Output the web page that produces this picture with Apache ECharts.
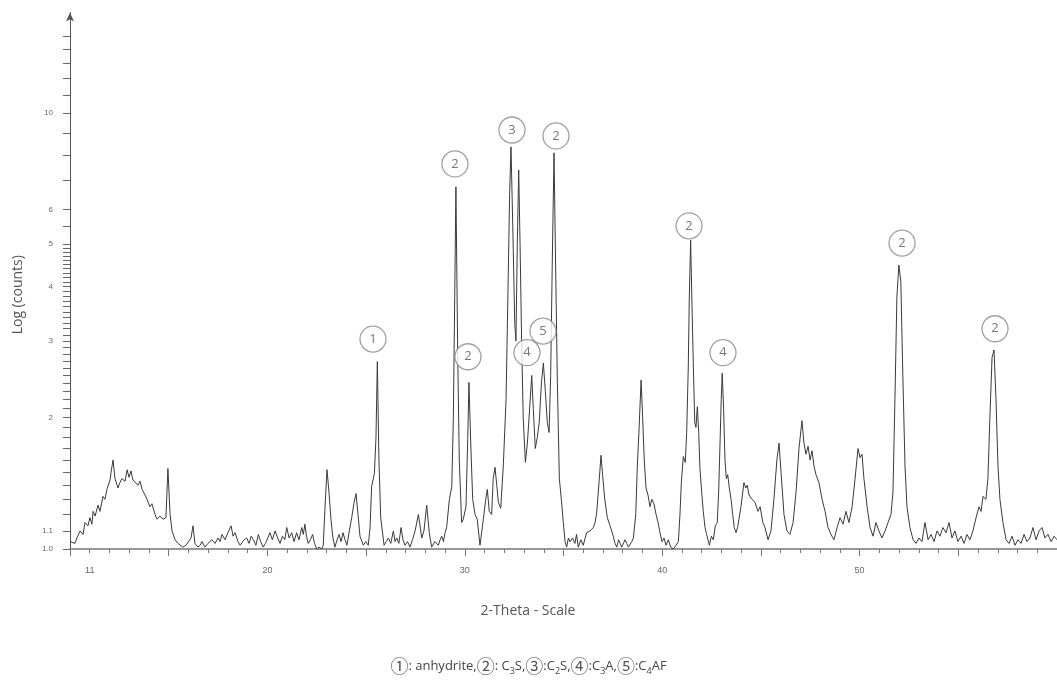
<!DOCTYPE html>
<html><head><meta charset="utf-8">
<script src="https://cdn.jsdelivr.net/npm/echarts@6/dist/echarts.min.js"></script>
<style>html,body{margin:0;padding:0;background:#fff}#c{width:1057px;height:682px}</style>
</head><body><div id="c"></div>
<script>
// 2-theta positions (degrees)
const twoTheta = [
10.00,10.10,10.25,10.35,10.51,10.66,10.76,10.91,11.01,11.11,
11.17,11.27,11.42,11.52,11.67,11.77,11.87,12.03,12.08,12.18,
12.28,12.43,12.53,12.63,12.79,12.89,12.99,13.09,13.19,13.29,
13.44,13.55,13.65,13.80,13.90,14.05,14.15,14.31,14.41,14.56,
14.71,14.86,14.96,15.07,15.17,15.32,15.47,15.57,15.72,15.88,
15.98,16.13,16.23,16.33,16.48,16.59,16.69,16.84,16.99,17.09,
17.19,17.35,17.50,17.60,17.70,17.85,18.00,18.16,18.26,18.36,
18.51,18.62,18.70,18.82,18.95,19.07,19.18,19.29,19.42,19.54,
19.66,19.79,19.90,20.02,20.13,20.25,20.39,20.52,20.64,20.76,
20.88,20.98,21.10,21.23,21.35,21.48,21.60,21.74,21.82,21.90,
21.98,22.07,22.18,22.29,22.39,22.49,22.62,22.75,22.83,22.92,
23.02,23.12,23.22,23.32,23.42,23.53,23.63,23.73,23.83,23.93,
24.03,24.15,24.27,24.38,24.49,24.59,24.69,24.86,24.98,25.11,
25.20,25.28,25.42,25.50,25.57,25.65,25.74,25.91,26.02,26.13,
26.25,26.38,26.47,26.55,26.66,26.77,26.87,26.97,27.10,27.22,
27.35,27.48,27.65,27.82,27.93,28.07,28.20,28.32,28.49,28.66,
28.75,28.83,28.92,29.00,29.08,29.22,29.34,29.42,29.49,29.55,
29.60,29.64,29.72,29.84,29.92,30.06,30.15,30.21,30.30,30.40,
30.52,30.63,30.77,30.94,31.06,31.14,31.24,31.36,31.44,31.53,
31.62,31.70,31.82,31.95,32.09,32.20,32.27,32.34,32.43,32.53,
32.59,32.66,32.73,32.80,32.88,32.96,33.07,33.17,33.27,33.39,
33.47,33.57,33.67,33.77,33.88,33.98,34.08,34.18,34.27,34.35,
34.43,34.52,34.60,34.69,34.79,34.89,34.99,35.08,35.16,35.25,
35.33,35.46,35.58,35.66,35.75,35.88,36.00,36.17,36.34,36.51,
36.60,36.68,36.81,36.90,36.98,37.09,37.22,37.36,37.52,37.61,
37.70,37.79,37.86,37.95,38.03,38.12,38.20,38.29,38.37,38.46,
38.54,38.66,38.74,38.82,38.93,39.01,39.09,39.18,39.28,39.38,
39.48,39.58,39.69,39.79,39.89,39.99,40.09,40.19,40.31,40.43,
40.56,40.70,40.82,40.90,40.97,41.07,41.17,41.24,41.32,41.37,
41.44,41.51,41.58,41.65,41.71,41.78,41.85,41.91,42.00,42.08,
42.17,42.25,42.39,42.49,42.59,42.69,42.79,42.86,42.93,42.99,
43.04,43.11,43.18,43.25,43.32,43.40,43.49,43.57,43.65,43.74,
43.82,43.90,43.99,44.08,44.14,44.23,44.31,44.40,44.55,44.70,
44.85,44.96,45.10,45.21,45.36,45.51,45.66,45.81,45.92,46.02,
46.17,46.32,46.47,46.63,46.78,46.93,47.08,47.18,47.28,47.39,
47.49,47.59,47.69,47.79,47.94,48.10,48.25,48.40,48.55,48.70,
48.86,49.01,49.16,49.31,49.46,49.62,49.77,49.92,50.02,50.12,
50.22,50.38,50.53,50.68,50.83,50.98,51.13,51.29,51.44,51.59,
51.69,51.79,51.89,51.99,52.09,52.19,52.30,52.40,52.55,52.71,
52.86,53.01,53.16,53.31,53.47,53.62,53.77,53.92,54.07,54.22,
54.38,54.53,54.68,54.83,54.98,55.14,55.29,55.44,55.59,55.74,
55.90,56.05,56.15,56.25,56.40,56.50,56.60,56.71,56.81,56.91,
57.01,57.11,57.26,57.42,57.57,57.72,57.87,58.02,58.18,58.33,
58.48,58.63,58.78,58.94,59.09,59.24,59.39,59.54,59.70,59.85,
60.00
];
// counts (log scale axis)
const counts = [
1.04,1.05,1.03,1.06,1.10,1.08,1.15,1.13,1.18,1.14,
1.22,1.19,1.26,1.22,1.32,1.30,1.37,1.44,1.50,1.60,
1.45,1.38,1.42,1.45,1.43,1.52,1.46,1.51,1.44,1.43,
1.40,1.43,1.37,1.33,1.30,1.25,1.27,1.20,1.17,1.19,
1.17,1.18,1.53,1.20,1.10,1.05,1.03,1.04,1.01,1.02,
1.01,1.06,1.13,1.03,1.01,1.02,1.04,1.01,1.03,1.02,
1.05,1.03,1.06,1.04,1.08,1.05,1.09,1.13,1.07,1.09,
1.04,1.02,1.01,1.05,1.06,1.03,1.07,1.05,1.02,1.08,
1.04,1.01,1.03,1.06,1.09,1.05,1.10,1.06,1.03,1.07,
1.05,1.12,1.06,1.09,1.04,1.09,1.05,1.12,1.08,1.14,
1.07,1.03,1.05,1.08,1.03,1.00,1.01,1.00,1.02,1.25,
1.52,1.35,1.17,1.06,1.01,1.05,1.08,1.04,1.09,1.05,
1.02,1.10,1.18,1.27,1.34,1.20,1.07,1.02,1.04,1.02,
1.12,1.39,1.49,1.80,2.69,1.60,1.18,1.02,1.04,1.06,
1.03,1.10,1.04,1.06,1.03,1.12,1.05,1.02,1.04,1.01,
1.05,1.10,1.20,1.06,1.10,1.26,1.09,1.01,1.04,1.02,
1.05,1.07,1.04,1.09,1.12,1.30,1.39,2.00,3.80,6.77,
4.20,2.80,1.60,1.15,1.17,1.25,1.80,2.41,1.75,1.30,
1.20,1.17,1.02,1.17,1.30,1.37,1.22,1.20,1.45,1.54,
1.40,1.28,1.24,1.55,2.20,4.20,6.50,8.36,5.50,3.30,
3.00,5.00,7.40,5.00,2.97,2.00,1.58,1.75,2.05,2.50,
2.10,1.70,1.80,1.95,2.40,2.67,2.30,1.95,1.85,2.50,
4.50,8.10,4.50,2.40,1.45,1.30,1.15,1.04,1.01,1.06,
1.04,1.06,1.03,1.08,1.01,1.05,1.02,1.09,1.10,1.12,
1.15,1.21,1.44,1.64,1.48,1.30,1.18,1.13,1.07,1.03,
1.01,1.05,1.04,1.01,1.01,1.05,1.03,1.01,1.02,1.04,
1.06,1.20,1.55,1.85,2.44,2.00,1.60,1.38,1.33,1.25,
1.30,1.27,1.20,1.15,1.09,1.04,1.06,1.02,1.05,1.01,
1.00,1.02,1.04,1.20,1.42,1.63,1.58,1.85,2.60,3.72,
5.11,3.60,2.61,1.95,1.90,2.12,1.85,1.54,1.35,1.22,
1.12,1.08,1.02,1.07,1.05,1.13,1.15,1.35,1.75,2.20,
2.53,2.10,1.60,1.45,1.48,1.38,1.30,1.20,1.12,1.09,
1.12,1.18,1.25,1.35,1.42,1.38,1.40,1.33,1.30,1.28,
1.22,1.25,1.15,1.12,1.05,1.10,1.30,1.60,1.75,1.50,
1.20,1.10,1.08,1.15,1.35,1.70,1.97,1.75,1.65,1.72,
1.60,1.68,1.55,1.48,1.42,1.30,1.22,1.12,1.08,1.05,
1.12,1.18,1.14,1.22,1.15,1.25,1.45,1.70,1.62,1.65,
1.45,1.25,1.12,1.07,1.15,1.10,1.06,1.10,1.15,1.20,
1.35,2.20,3.80,4.48,4.10,2.50,1.55,1.25,1.12,1.05,
1.03,1.06,1.04,1.15,1.05,1.08,1.04,1.10,1.07,1.12,
1.09,1.15,1.06,1.10,1.04,1.07,1.03,1.08,1.05,1.10,
1.18,1.25,1.22,1.32,1.30,1.45,2.00,2.75,2.86,2.20,
1.55,1.30,1.15,1.05,1.03,1.07,1.02,1.05,1.03,1.08,
1.04,1.06,1.12,1.05,1.10,1.12,1.06,1.08,1.04,1.07,
1.05
];
// phase annotation markers
const markerX = [25.35, 29.50, 30.16, 32.39, 34.62, 33.15, 33.96, 41.36, 43.08, 52.15, 56.86];
const markerY = [3.03, 7.64, 2.76, 9.14, 8.86, 2.82, 3.16, 5.51, 2.82, 5.03, 3.20];
const markerLabel = ['1','2','2','3','2','4','5','2','4','2','2'];
// axis labels / ticks
const xLabelValues = [11, 20, 30, 40, 50, 60];
const yLabelValues = [1.0, 1.1, 2, 3, 4, 5, 6, 10];
const yLabelTexts = ['1.0', '1.1', '2', '3', '4', '5', '6', '10'];
const yTickValues = [
1.0,1.1,1.2,1.3,1.4,1.5,1.6,1.7,1.8,1.9,
2.0,2.1,2.2,2.3,2.4,2.5,2.6,2.7,2.8,2.9,
3.0,3.1,3.2,3.3,3.4,3.5,3.6,3.7,3.8,3.9,
4.0,4.1,4.2,4.3,4.4,4.5,4.6,4.7,4.8,4.9,
5.0,5.5,6,7,8,9,10,11,12,13,14,15
];
const xAxisTitle = '2-Theta - Scale';
const yAxisTitle = 'Log (counts)';

const chart = echarts.init(document.getElementById('c'));
chart.setOption({
  animation: false,
  backgroundColor: '#fff',
  title: {
    left: 'center',
    top: 651,
    text: '{c|①}: anhydrite,{c|②}: C{s|3}S,{c|③}:C{s|2}S,{c|④}:C{s|3}A,{c|⑤}:C{s|4}AF',
    textStyle: {
      fontSize: 13, color: '#444', fontWeight: 'normal', lineHeight: 20,
      fontFamily: "'Open Sans', 'Noto Sans', sans-serif",
      rich: {
        c: { fontSize: 18, lineHeight: 20, color: '#555', fontFamily: "'Noto Sans CJK SC'" },
        s: { fontSize: 9, lineHeight: 12, verticalAlign: 'bottom', color: '#444', fontFamily: "'Open Sans', sans-serif" }
      }
    }
  },
  grid: { left: 70, right: 0, top: 12.5, bottom: 133, outerBoundsMode: 'none', containLabel: false },
  xAxis: {
    type: 'value', min: 10, max: 60, interval: 5,
    axisLine: { lineStyle: { color: '#777', width: 1.5 } },
    axisTick: { show: true, length: 7, lineStyle: { color: '#777' } },
    minorTick: { show: true, splitNumber: 5, length: 4, lineStyle: { color: '#777' } },
    splitLine: { show: false },
    axisLabel: { customValues: xLabelValues, alignMaxLabel: 'left', margin: 17, fontSize: 9, color: '#666', fontFamily: "'Liberation Sans', sans-serif" },
    name: xAxisTitle, nameLocation: 'middle', nameGap: 55,
    nameTextStyle: { fontSize: 14, color: '#555', fontFamily: "'Open Sans', sans-serif", padding: [0, 71, 0, 0] }
  },
  yAxis: {
    type: 'log', logBase: 10, min: 1, max: 17,
    axisLine: { show: true, symbol: ['none', 'arrow'], symbolSize: [6, 9], lineStyle: { color: '#555' } },
    axisTick: { show: true, customValues: yTickValues, length: 7, lineStyle: { color: '#666' } },
    axisLabel: {
      customValues: yLabelValues, margin: 17, fontSize: 8, color: '#666',
      fontFamily: "'Liberation Sans', sans-serif",
      formatter: function (v) {
        const i = yLabelValues.findIndex(t => Math.abs(t - v) < 1e-6);
        return i >= 0 ? yLabelTexts[i] : '';
      }
    },
    splitLine: { show: false },
    minorTick: { show: false },
    name: yAxisTitle, nameLocation: 'middle', nameGap: 45, nameRotate: 90,
    nameTextStyle: { fontSize: 14, color: '#555', fontFamily: "'Open Sans', sans-serif", padding: [0, 28, 0, 0] }
  },
  series: [
    {
      type: 'line',
      data: twoTheta.map((x, i) => [x, counts[i]]),
      symbol: 'none',
      lineStyle: { color: '#3a3a3a', width: 1 }
    },
    {
      type: 'scatter',
      data: markerX.map((x, i) => [x, markerY[i], markerLabel[i]]),
      symbol: 'circle', symbolSize: 26, z: 5,
      itemStyle: { color: '#fff', borderColor: '#8a8a8a', borderWidth: 1.3 },
      label: {
        show: true, position: 'inside', formatter: p => p.data[2],
        fontSize: 13, color: '#555', fontFamily: "'Open Sans', sans-serif"
      }
    }
  ]
});
</script>
</body></html>
